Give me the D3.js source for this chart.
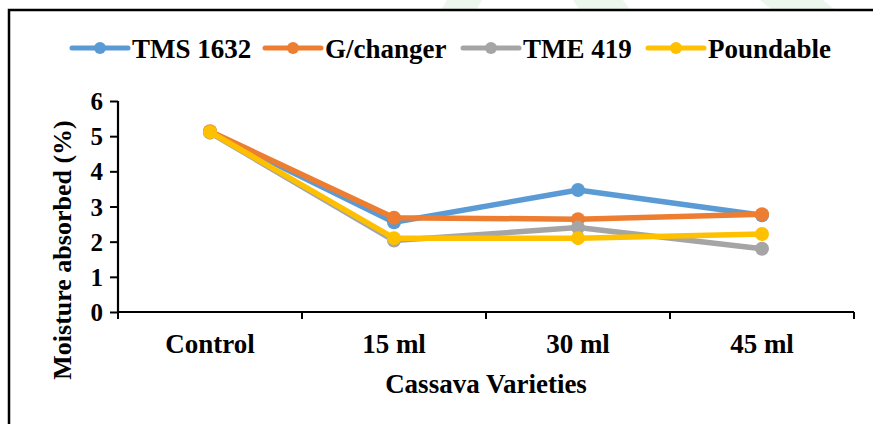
<!DOCTYPE html>
<html><head><meta charset="utf-8">
<script src="https://cdn.jsdelivr.net/npm/d3@7"></script>
<style>html,body{margin:0;padding:0;background:#fff;}svg{display:block;}
svg text{font-family:"Liberation Serif","Times New Roman",serif;font-weight:bold;fill:#000;}
</style>
</head><body>
<svg id="c" width="873" height="424"></svg>
<script>
const categories = ["Control", "15 ml", "30 ml", "45 ml"];
const seriesNames = ["TMS 1632", "G/changer", "TME 419", "Poundable"];
const tms1632 = [5.12, 2.55, 3.47, 2.75];
const gchanger = [5.14, 2.68, 2.64, 2.78];
const tme419 = [5.10, 2.03, 2.40, 1.80];
const poundable = [5.12, 2.10, 2.10, 2.22];
const colors = ["#5B9BD5", "#ED7D31", "#A5A5A5", "#FFC000"];
const yTicks = [0, 1, 2, 3, 4, 5, 6];
const yTitle = "Moisture absorbed (%)";
const xTitle = "Cassava Varieties";

const series = [tms1632, gchanger, tme419, poundable];
const svg = d3.select("#c");

// faint watermark shapes at top
const wm = [[[447,0],[482,0],[476,10],[441,10]],[[573,0],[623,0],[630,10],[580,10]],[[760,0],[823,0],[835,10],[772,10]]];
svg.selectAll("polygon.wm").data(wm).enter().append("polygon")
  .attr("points", d => d.map(p => p.join(",")).join(" "))
  .attr("fill", "#edf6ec");

// frame
svg.append("path").attr("d", "M9,430 L9,10 L880,10").attr("fill", "none")
  .attr("stroke", "#000").attr("stroke-width", 2.5);

const pL = 118, pR = 854, pT = 101, pB = 312;
const x = d3.scaleBand().domain(categories).range([pL, pR]).paddingInner(0).paddingOuter(0);
const y = d3.scaleLinear().domain([0, 6]).range([pB, pT]);

// y axis
const ya = svg.append("g").attr("transform", `translate(${pL},0)`)
  .call(d3.axisLeft(y).tickValues(yTicks).tickSize(8).tickPadding(7).tickFormat(d3.format("d")));
ya.attr("font-family", null).attr("font-size", null);
ya.select(".domain").attr("stroke", "#000").attr("stroke-width", 2.2).attr("d", `M0,${pT}H0V${pB}`);
ya.selectAll(".tick line").attr("stroke", "#000").attr("stroke-width", 2);
ya.selectAll(".tick text").style("font-size", "25px").attr("dy", "0.34em");

// x axis
const xa = svg.append("g").attr("transform", `translate(0,${pB})`)
  .call(d3.axisBottom(x).tickSize(0).tickPadding(22));
xa.attr("font-family", null).attr("font-size", null);
xa.select(".domain").attr("stroke", "#000").attr("stroke-width", 2.2).attr("d", `M${pL},0H${pR}`);
xa.selectAll(".tick text").style("font-size", "27px");
const bounds = categories.map(c => x(c)).concat([x(categories[categories.length-1]) + x.bandwidth()]);
xa.selectAll("line.bt").data(bounds).enter().append("line").attr("class","bt")
  .attr("x1", d => d).attr("x2", d => d).attr("y1", 0).attr("y2", 7)
  .attr("stroke", "#000").attr("stroke-width", 2);

// titles
svg.append("text").attr("transform", `translate(71,250) rotate(-90)`)
  .attr("text-anchor", "middle").style("font-size", "26px").text(yTitle);
svg.append("text").attr("x", (pL+pR)/2).attr("y", 393)
  .attr("text-anchor", "middle").style("font-size", "27px").text(xTitle);

// lines
const cx = c => x(c) + x.bandwidth()/2;
const line = d3.line().x((d,i) => cx(categories[i])).y(d => y(d));
series.forEach((s, k) => {
  const g = svg.append("g");
  g.append("path").datum(s).attr("d", line).attr("fill", "none")
    .attr("stroke", colors[k]).attr("stroke-width", 5.5).attr("stroke-linejoin", "round");
  g.selectAll("circle").data(s).enter().append("circle")
    .attr("cx", (d,i) => cx(categories[i])).attr("cy", d => y(d)).attr("r", 7)
    .attr("fill", colors[k]);
});

// legend
const legX = [72, 265, 463, 648];
const legY = 48;
seriesNames.forEach((n, k) => {
  const g = svg.append("g").attr("transform", `translate(${legX[k]},${legY})`);
  g.append("line").attr("x1", 0).attr("x2", 56).attr("y1", 0).attr("y2", 0)
    .attr("stroke", colors[k]).attr("stroke-width", 5).attr("stroke-linecap", "round");
  g.append("circle").attr("cx", 28).attr("cy", 0).attr("r", 6).attr("fill", colors[k]);
  g.append("text").attr("x", 60).attr("y", 9.5).style("font-size", "27px").text(n);
});
</script>
</body></html>
